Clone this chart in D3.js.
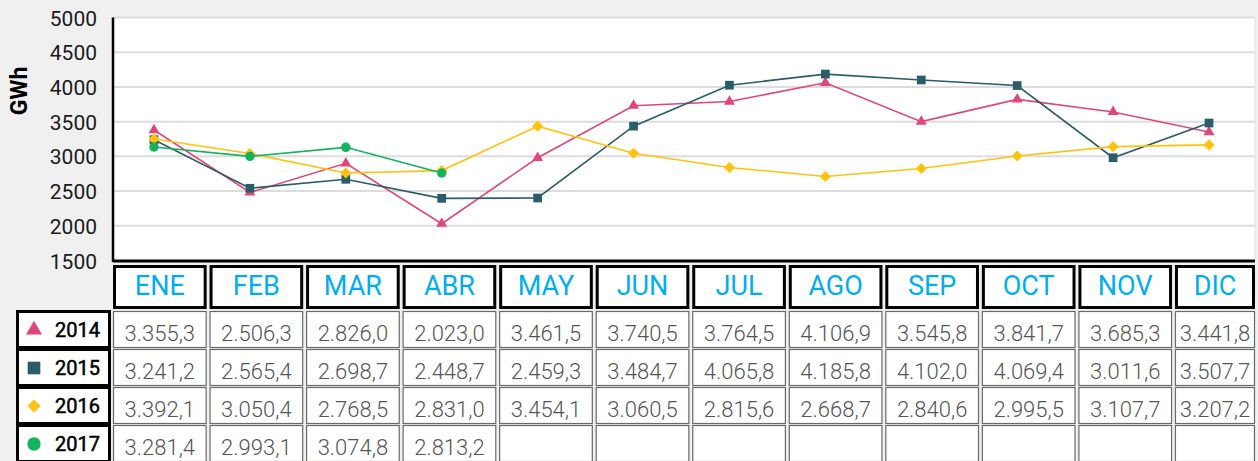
<!DOCTYPE html>
<html>
<head>
  <meta charset="utf-8">
  <title>GWh mensual</title>
  <script src="https://d3js.org/d3.v7.min.js"></script>
  <style>
    body, html {
      margin: 0;
      padding: 0;
      overflow: hidden;
      background: #f0f0f0;
    }
    text {
      font-family: Roboto, "DejaVu Sans", sans-serif;
    }
  </style>
</head>
<body>
  <div id="chart"></div>

  <script>
    // months and years
    const months = ["ENE", "FEB", "MAR", "ABR", "MAY", "JUN", "JUL", "AGO", "SEP", "OCT", "NOV", "DIC"];
    const years = ["2014", "2015", "2016", "2017"];
    const yTicks = [1500, 2000, 2500, 3000, 3500, 4000, 4500, 5000];

    // values as plotted in the chart
    const plot2014 = [3380, 2480, 2900, 2030, 2980, 3730, 3790, 4060, 3500, 3820, 3640, 3350];
    const plot2015 = [3240, 2540, 2670, 2395, 2400, 3435, 4025, 4185, 4100, 4020, 2980, 3480];
    const plot2016 = [3250, 3040, 2760, 2795, 3435, 3045, 2840, 2710, 2825, 3005, 3140, 3165];
    const plot2017 = [3135, 3000, 3130, 2760];

    // values printed in the table
    const table2014 = [3355.3, 2506.3, 2826.0, 2023.0, 3461.5, 3740.5, 3764.5, 4106.9, 3545.8, 3841.7, 3685.3, 3441.8];
    const table2015 = [3241.2, 2565.4, 2698.7, 2448.7, 2459.3, 3484.7, 4065.8, 4185.8, 4102.0, 4069.4, 3011.6, 3507.7];
    const table2016 = [3392.1, 3050.4, 2768.5, 2831.0, 3454.1, 3060.5, 2815.6, 2668.7, 2840.6, 2995.5, 3107.7, 3207.2];
    const table2017 = [3281.4, 2993.1, 3074.8, 2813.2];

    const colors = { "2014": "#e0457b", "2015": "#2b5c6a", "2016": "#ffc20e", "2017": "#13b25c" };
    const shapes = { "2014": d3.symbolTriangle, "2015": d3.symbolSquare, "2016": d3.symbolSquare, "2017": d3.symbolCircle };
    const plotted = { "2014": plot2014, "2015": plot2015, "2016": plot2016, "2017": plot2017 };
    const tabled = { "2014": table2014, "2015": table2015, "2016": table2016, "2017": table2017 };

    const width = 1258, height = 461;
    const plotLeft = 113, plotRight = 1255, plotTop = 17.5, plotBottom = 260.5;

    const svg = d3.select("#chart").append("svg")
      .attr("width", width)
      .attr("height", height);

    svg.append("rect").attr("width", width).attr("height", height).attr("fill", "#f0f0f0");

    const y = d3.scaleLinear().domain([1500, 5000]).range([plotBottom, plotTop]);
    const x = d3.scalePoint().domain(months).range([154, 1209]);
    const col = d3.scaleBand().domain(months).range([plotLeft, plotLeft + 96.3 * 12]).paddingInner(0.03).paddingOuter(0);

    // plot area
    svg.append("rect")
      .attr("x", plotLeft).attr("y", plotTop)
      .attr("width", plotRight - plotLeft).attr("height", plotBottom - plotTop)
      .attr("fill", "#fff")
      .attr("stroke", "#e2e2e2");

    // gridlines
    svg.append("g")
      .selectAll("line")
      .data(yTicks.slice(1))
      .join("line")
      .attr("x1", plotLeft).attr("x2", plotRight)
      .attr("y1", d => y(d)).attr("y2", d => y(d))
      .attr("stroke", "#dcdcdc")
      .attr("stroke-width", 2);

    // y axis
    const yAxis = svg.append("g")
      .attr("transform", `translate(${plotLeft},0)`)
      .call(d3.axisLeft(y).tickValues(yTicks).tickSize(0).tickPadding(16).tickFormat(d3.format("d")));
    yAxis.select(".domain").remove();
    yAxis.selectAll("text").attr("font-size", 21).attr("fill", "#1a1a1a").attr("dy", "0.36em");

    svg.append("line")
      .attr("x1", plotLeft).attr("x2", plotLeft)
      .attr("y1", plotTop).attr("y2", plotBottom + 1.5)
      .attr("stroke", "#000").attr("stroke-width", 2.5);
    svg.append("line")
      .attr("x1", plotLeft).attr("x2", plotRight)
      .attr("y1", plotBottom + 0.5).attr("y2", plotBottom + 0.5)
      .attr("stroke", "#000").attr("stroke-width", 3);

    svg.append("text")
      .attr("transform", "translate(27,91) rotate(-90)")
      .attr("text-anchor", "middle")
      .attr("font-size", 23)
      .attr("font-weight", "bold")
      .attr("fill", "#000")
      .text("GWh");

    // lines + markers
    const line = d3.line().x((d, i) => x(months[i])).y(d => y(d));
    const markerSize = { "2014": 52, "2015": 76, "2016": 62, "2017": 70 };

    years.forEach(yr => {
      const vals = plotted[yr];
      svg.append("path")
        .datum(vals)
        .attr("d", line)
        .attr("fill", "none")
        .attr("stroke", colors[yr])
        .attr("stroke-width", 1.6);

      svg.append("g")
        .selectAll("path")
        .data(vals)
        .join("path")
        .attr("transform", (d, i) => `translate(${x(months[i])},${y(d)})` + (yr === "2016" ? " rotate(45)" : ""))
        .attr("d", d3.symbol().type(shapes[yr]).size(markerSize[yr]))
        .attr("fill", colors[yr]);
    });

    // table header
    const headTop = 265, headH = 44;
    const header = svg.append("g");
    header.selectAll("rect")
      .data(months)
      .join("rect")
      .attr("x", d => col(d) + 1.5)
      .attr("y", headTop + 1.5)
      .attr("width", d => Math.min(col.bandwidth(), plotRight - col(d)) - 3)
      .attr("height", headH - 3)
      .attr("fill", "#fff")
      .attr("stroke", "#000")
      .attr("stroke-width", 3);
    header.selectAll("text")
      .data(months)
      .join("text")
      .attr("x", d => col(d) + Math.min(col.bandwidth(), plotRight - col(d)) / 2)
      .attr("y", headTop + 30)
      .attr("text-anchor", "middle")
      .attr("font-size", 27)
      .attr("fill", "#00aeef")
      .text(d => d);

    // table rows
    const fmt = d3.formatLocale({ decimal: ",", thousands: ".", grouping: [3], currency: ["", ""] }).format(",.1f");
    const rowTop = 311, rowPitch = 38, rowH = 36;
    const legendSize = { "2014": 110, "2015": 160, "2016": 85, "2017": 140 };

    years.forEach((yr, r) => {
      const ry = rowTop + r * rowPitch;
      const g = svg.append("g");

      // label cell
      g.append("rect")
        .attr("x", 17.5).attr("y", ry + 0.5)
        .attr("width", 92).attr("height", rowH)
        .attr("fill", "#fff")
        .attr("stroke", "#000")
        .attr("stroke-width", 3);
      g.append("path")
        .attr("transform", `translate(34,${ry + rowH / 2 + 1})` + (yr === "2016" ? " rotate(45)" : ""))
        .attr("d", d3.symbol().type(shapes[yr]).size(legendSize[yr]))
        .attr("fill", colors[yr]);
      g.append("text")
        .attr("x", 55).attr("y", ry + 26)
        .attr("font-size", 20)
        .attr("fill", "#000")
        .attr("stroke", "#000")
        .attr("stroke-width", 0.5)
        .text(yr);

      // value cells
      g.selectAll("rect.cell")
        .data(months)
        .join("rect")
        .attr("class", "cell")
        .attr("x", d => col(d) + 0.5)
        .attr("y", ry + 0.5)
        .attr("width", d => Math.min(col.bandwidth(), plotRight - col(d)) - 1)
        .attr("height", rowH)
        .attr("fill", "#fff")
        .attr("stroke", "#6a6a6a")
        .attr("stroke-width", 1.2);

      g.selectAll("text.val")
        .data(tabled[yr])
        .join("text")
        .attr("class", "val")
        .attr("x", (d, i) => col(months[i]) + Math.min(col.bandwidth(), plotRight - col(months[i])) / 2)
        .attr("y", ry + 30)
        .attr("text-anchor", "middle")
        .attr("font-size", 22)
        .attr("font-weight", 300)
        .attr("fill", "#555")
        .text(d => fmt(d));
    });
  </script>
</body>
</html>
